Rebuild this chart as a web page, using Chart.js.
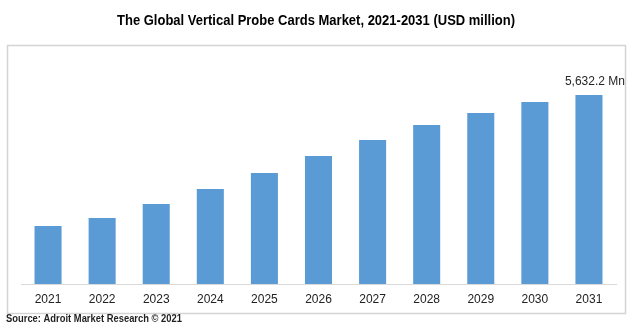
<!DOCTYPE html>
<html>
<head>
<meta charset="utf-8">
<script src="https://cdn.jsdelivr.net/npm/chart.js@4"></script>
<style>
  html, body { margin: 0; padding: 0; background: #fff; }
  #wrap { width: 633px; height: 326px; position: relative; }
</style>
</head>
<body>
<div id="wrap"><canvas id="myChart" width="633" height="326"></canvas></div>
<script>
var years = ["2021", "2022", "2023", "2024", "2025", "2026", "2027", "2028", "2029", "2030", "2031"];
var marketSize = [1728, 1967, 2384, 2831, 3308, 3814, 4291, 4738, 5096, 5424, 5632.2];
var labelText = "5,632.2 Mn";
var titleText = "The Global Vertical Probe Cards Market, 2021-2031 (USD million)";
var sourceText = "Source: Adroit Market Research \u00a9 2021";

// condensed text: the narrow font is not installed, so squeeze horizontally
function narrowText(c, text, x, y, width, align) {
  var w = c.measureText(text).width;
  var k = width / w;
  c.save();
  c.translate(x, y);
  c.scale(k, 1);
  c.textAlign = align;
  c.fillText(text, 0, 0);
  c.restore();
}

// frame, title, source and the single data label
var decor = {
  id: "decor",
  beforeDraw: function(chart) {
    var c = chart.ctx;
    c.save();
    c.fillStyle = "#ffffff";
    c.fillRect(0, 0, chart.width, chart.height);
    c.strokeStyle = "#d4d4d4";
    c.lineWidth = 1.5;
    c.strokeRect(7.5, 45.5, 618, 268);
    c.fillStyle = "#000000";
    c.textBaseline = "middle";
    c.font = "bold 15px 'Liberation Sans', Arial, sans-serif";
    narrowText(c, titleText, 316, 21, 398, "center");
    c.font = "bold 11px 'Liberation Sans', Arial, sans-serif";
    c.fillStyle = "#1f1f1f";
    narrowText(c, sourceText, 6, 319, 176, "left");
    c.restore();
  },
  afterDatasetsDraw: function(chart) {
    var c = chart.ctx;
    var meta = chart.getDatasetMeta(0);
    var bar = meta.data[meta.data.length - 1];
    c.save();
    c.fillStyle = "#262626";
    c.font = "12px 'Liberation Sans', Arial, sans-serif";
    c.textAlign = "center";
    c.textBaseline = "middle";
    c.fillText(labelText, bar.x + 6, bar.y - 13);
    c.restore();
  }
};

var ctx = document.getElementById("myChart");
new Chart(ctx, {
  type: "bar",
  data: {
    labels: years,
    datasets: [{
      label: "Market size",
      data: marketSize,
      backgroundColor: "#5b9bd5",
      barPercentage: 0.5,
      categoryPercentage: 1.0
    }]
  },
  options: {
    responsive: false,
    animation: false,
    layout: {
      padding: { left: 21, right: 17, top: 66, bottom: 0 }
    },
    plugins: {
      legend: { display: false },
      tooltip: { enabled: false },
      title: { display: false }
    },
    scales: {
      x: {
        grid: { display: false, drawTicks: false },
        border: { display: true, color: "#d9d9d9", width: 1 },
        ticks: {
          color: "#222222",
          padding: 8,
          font: { family: "'Liberation Sans', Arial, sans-serif", size: 12 }
        },
        afterFit: function(scale) { scale.height = 42; }
      },
      y: {
        display: false,
        min: 0,
        max: 6500
      }
    }
  },
  plugins: [decor]
});
</script>
</body>
</html>
